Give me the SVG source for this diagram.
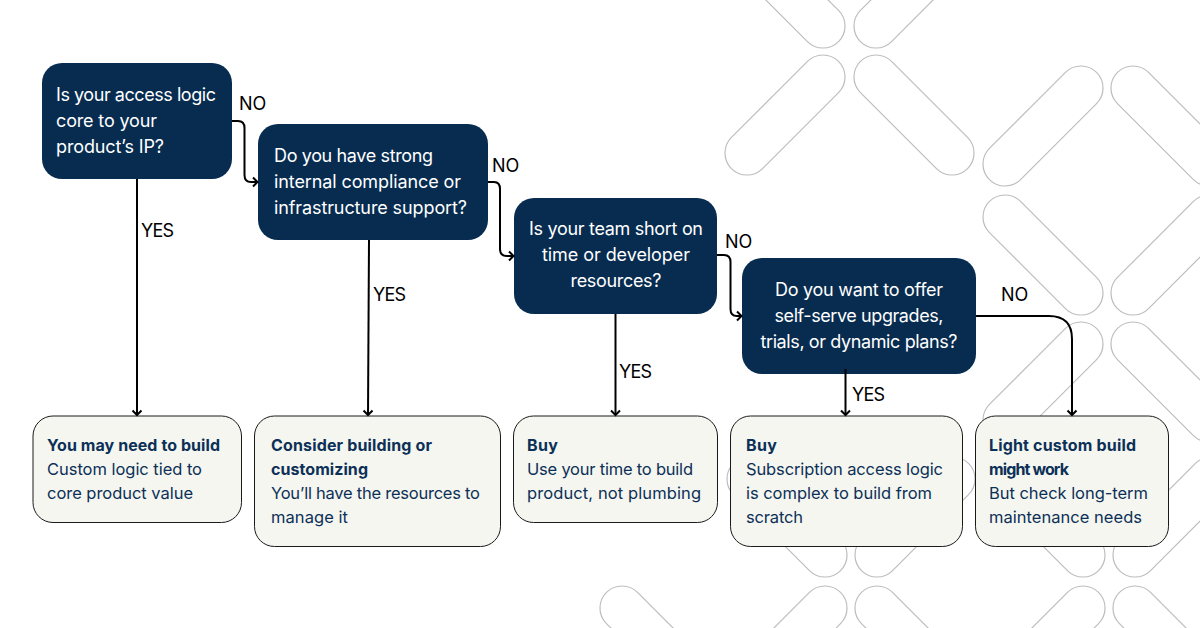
<svg xmlns="http://www.w3.org/2000/svg" width="1200" height="628" viewBox="0 0 1200 628">
<style>
text{font-family:"Inter","Liberation Sans",sans-serif}
.q{fill:#072c50}
.qt{fill:#fff;font-size:18px}
.a{fill:#f5f6f0;stroke:#1a1a1a;stroke-width:1}
.at{fill:#0c3057;font-size:16.5px}
.b{font-weight:700;font-size:16px}
.l{fill:#000;font-size:18px}
.p{fill:none;stroke:#bdbdbd;stroke-width:1.2}
.c{fill:none;stroke:#000;stroke-width:2;marker-end:url(#h)}
</style>
<defs>
<marker id="h" markerUnits="userSpaceOnUse" markerWidth="12" markerHeight="12" refX="8" refY="6" orient="auto"><path d="M3.500 1.500L8 6L3.500 10.500" fill="none" stroke="#000" stroke-width="2"/></marker>
<rect id="pill" x="-75.750" y="-22" width="151.500" height="44" rx="22"/>
</defs>
<rect width="1200" height="628" fill="#fff"/>
<g id="pattern" class="p">
<use href="#pill" transform="translate(785 -12) rotate(45)"/>
<use href="#pill" transform="translate(914 -12) rotate(-45)"/>
<use href="#pill" transform="translate(785 115) rotate(-45)"/>
<use href="#pill" transform="translate(914 115) rotate(45)"/>
<use href="#pill" transform="translate(1043 126) rotate(-45)"/>
<use href="#pill" transform="translate(1171 126) rotate(45)"/>
<use href="#pill" transform="translate(1043 255) rotate(45)"/>
<use href="#pill" transform="translate(1171 255) rotate(-45)"/>
<use href="#pill" transform="translate(1043 382) rotate(-45)"/>
<use href="#pill" transform="translate(1171 382) rotate(45)"/>
<use href="#pill" transform="translate(787 517) rotate(45)"/>
<use href="#pill" transform="translate(915 517) rotate(-45)"/>
<use href="#pill" transform="translate(1045 517) rotate(45)"/>
<use href="#pill" transform="translate(1173 517) rotate(-45)"/>
<use href="#pill" transform="translate(660 646) rotate(45)"/>
<use href="#pill" transform="translate(787 646) rotate(-45)"/>
<use href="#pill" transform="translate(915 646) rotate(45)"/>
<use href="#pill" transform="translate(1045 646) rotate(-45)"/>
<use href="#pill" transform="translate(1173 646) rotate(45)"/>
</g>
<g id="q1"><rect class="q" x="42" y="63" width="190" height="116" rx="20"/>
<text class="qt" x="56" y="101" textLength="160">Is your access logic</text><text class="qt" x="56" y="127" textLength="101">core to your</text><text class="qt" x="56" y="153" textLength="108">product’s IP?</text></g>
<g id="q2"><rect class="q" x="258" y="124" width="230" height="116" rx="20"/>
<text class="qt" x="274" y="162" textLength="159">Do you have strong</text><text class="qt" x="274" y="188" textLength="187">internal compliance or</text><text class="qt" x="274" y="214" textLength="193">infrastructure support?</text></g>
<g id="q3"><rect class="q" x="514" y="198" width="203" height="116" rx="20"/>
<text class="qt" text-anchor="middle" x="616" y="235" textLength="174">Is your team short on</text><text class="qt" text-anchor="middle" x="616" y="261" textLength="148">time or developer</text><text class="qt" text-anchor="middle" x="616" y="287" textLength="91">resources?</text></g>
<g id="q4"><rect class="q" x="742" y="258" width="234" height="116" rx="20"/>
<text class="qt" text-anchor="middle" x="859" y="296" textLength="168">Do you want to offer</text><text class="qt" text-anchor="middle" x="859" y="322" textLength="169">self-serve upgrades,</text><text class="qt" text-anchor="middle" x="859" y="348" textLength="197">trials, or dynamic plans?</text></g>
<g id="a1"><rect class="a" x="33" y="416" width="208.500" height="106.500" rx="20"/>
<text class="at b" x="47" y="451" textLength="173">You may need to build</text><text class="at" x="47" y="475" textLength="155">Custom logic tied to</text><text class="at" x="47" y="499" textLength="146">core product value</text></g>
<g id="a2"><rect class="a" x="254.500" y="416" width="246" height="130.500" rx="20"/>
<text class="at b" x="271" y="451" textLength="161">Consider building or</text><text class="at b" x="271" y="475" textLength="97">customizing</text><text class="at" x="271" y="499" textLength="209">You’ll have the resources to</text><text class="at" x="271" y="523" textLength="77">manage it</text></g>
<g id="a3"><rect class="a" x="513.500" y="416" width="204" height="106.500" rx="20"/>
<text class="at b" x="527" y="451" textLength="31">Buy</text><text class="at" x="527" y="475" textLength="166">Use your time to build</text><text class="at" x="527" y="499" textLength="174">product, not plumbing</text></g>
<g id="a4"><rect class="a" x="730.500" y="416" width="232" height="130.500" rx="20"/>
<text class="at b" x="746" y="451" textLength="31">Buy</text><text class="at" x="746" y="475" textLength="197">Subscription access logic</text><text class="at" x="746" y="499" textLength="186">is complex to build from</text><text class="at" x="746" y="523" textLength="57">scratch</text></g>
<g id="a5"><rect class="a" x="975.500" y="416" width="193" height="130.500" rx="20"/>
<text class="at b" x="989" y="451" textLength="147">Light custom build</text><text class="at b" x="989" y="475" textLength="80">might work</text><text class="at" x="989" y="499" textLength="159">But check long-term</text><text class="at" x="989" y="523" textLength="153">maintenance needs</text></g>
<g id="connectors">
<path class="c" d="M232 121H238Q244.500 121 244.500 128V175Q244.500 182 251 182H257.500"/>
<path class="c" d="M488 182H494Q500 182 500 189V249Q500 256 507 256H513.500"/>
<path class="c" d="M717 255H724Q730.500 255 730.500 262V309Q730.500 316 737 316H741.500"/>
<path class="c" d="M137 179V415"/>
<path class="c" d="M369 240L368 415"/>
<path class="c" d="M615.500 314V415"/>
<path class="c" d="M845.500 369V415"/>
<path class="c" d="M976 316H1049Q1072 316 1072 339V415"/>
</g>
<g id="labels">
<text class="l" x="239" y="110">NO</text>
<text class="l" x="492" y="172">NO</text>
<text class="l" x="725" y="248">NO</text>
<text class="l" x="1001" y="301">NO</text>
<text class="l" x="141" y="237" textLength="33">YES</text>
<text class="l" x="373" y="301" textLength="33">YES</text>
<text class="l" x="619" y="378" textLength="33">YES</text>
<text class="l" x="852" y="401" textLength="33">YES</text>
</g>
</svg>
